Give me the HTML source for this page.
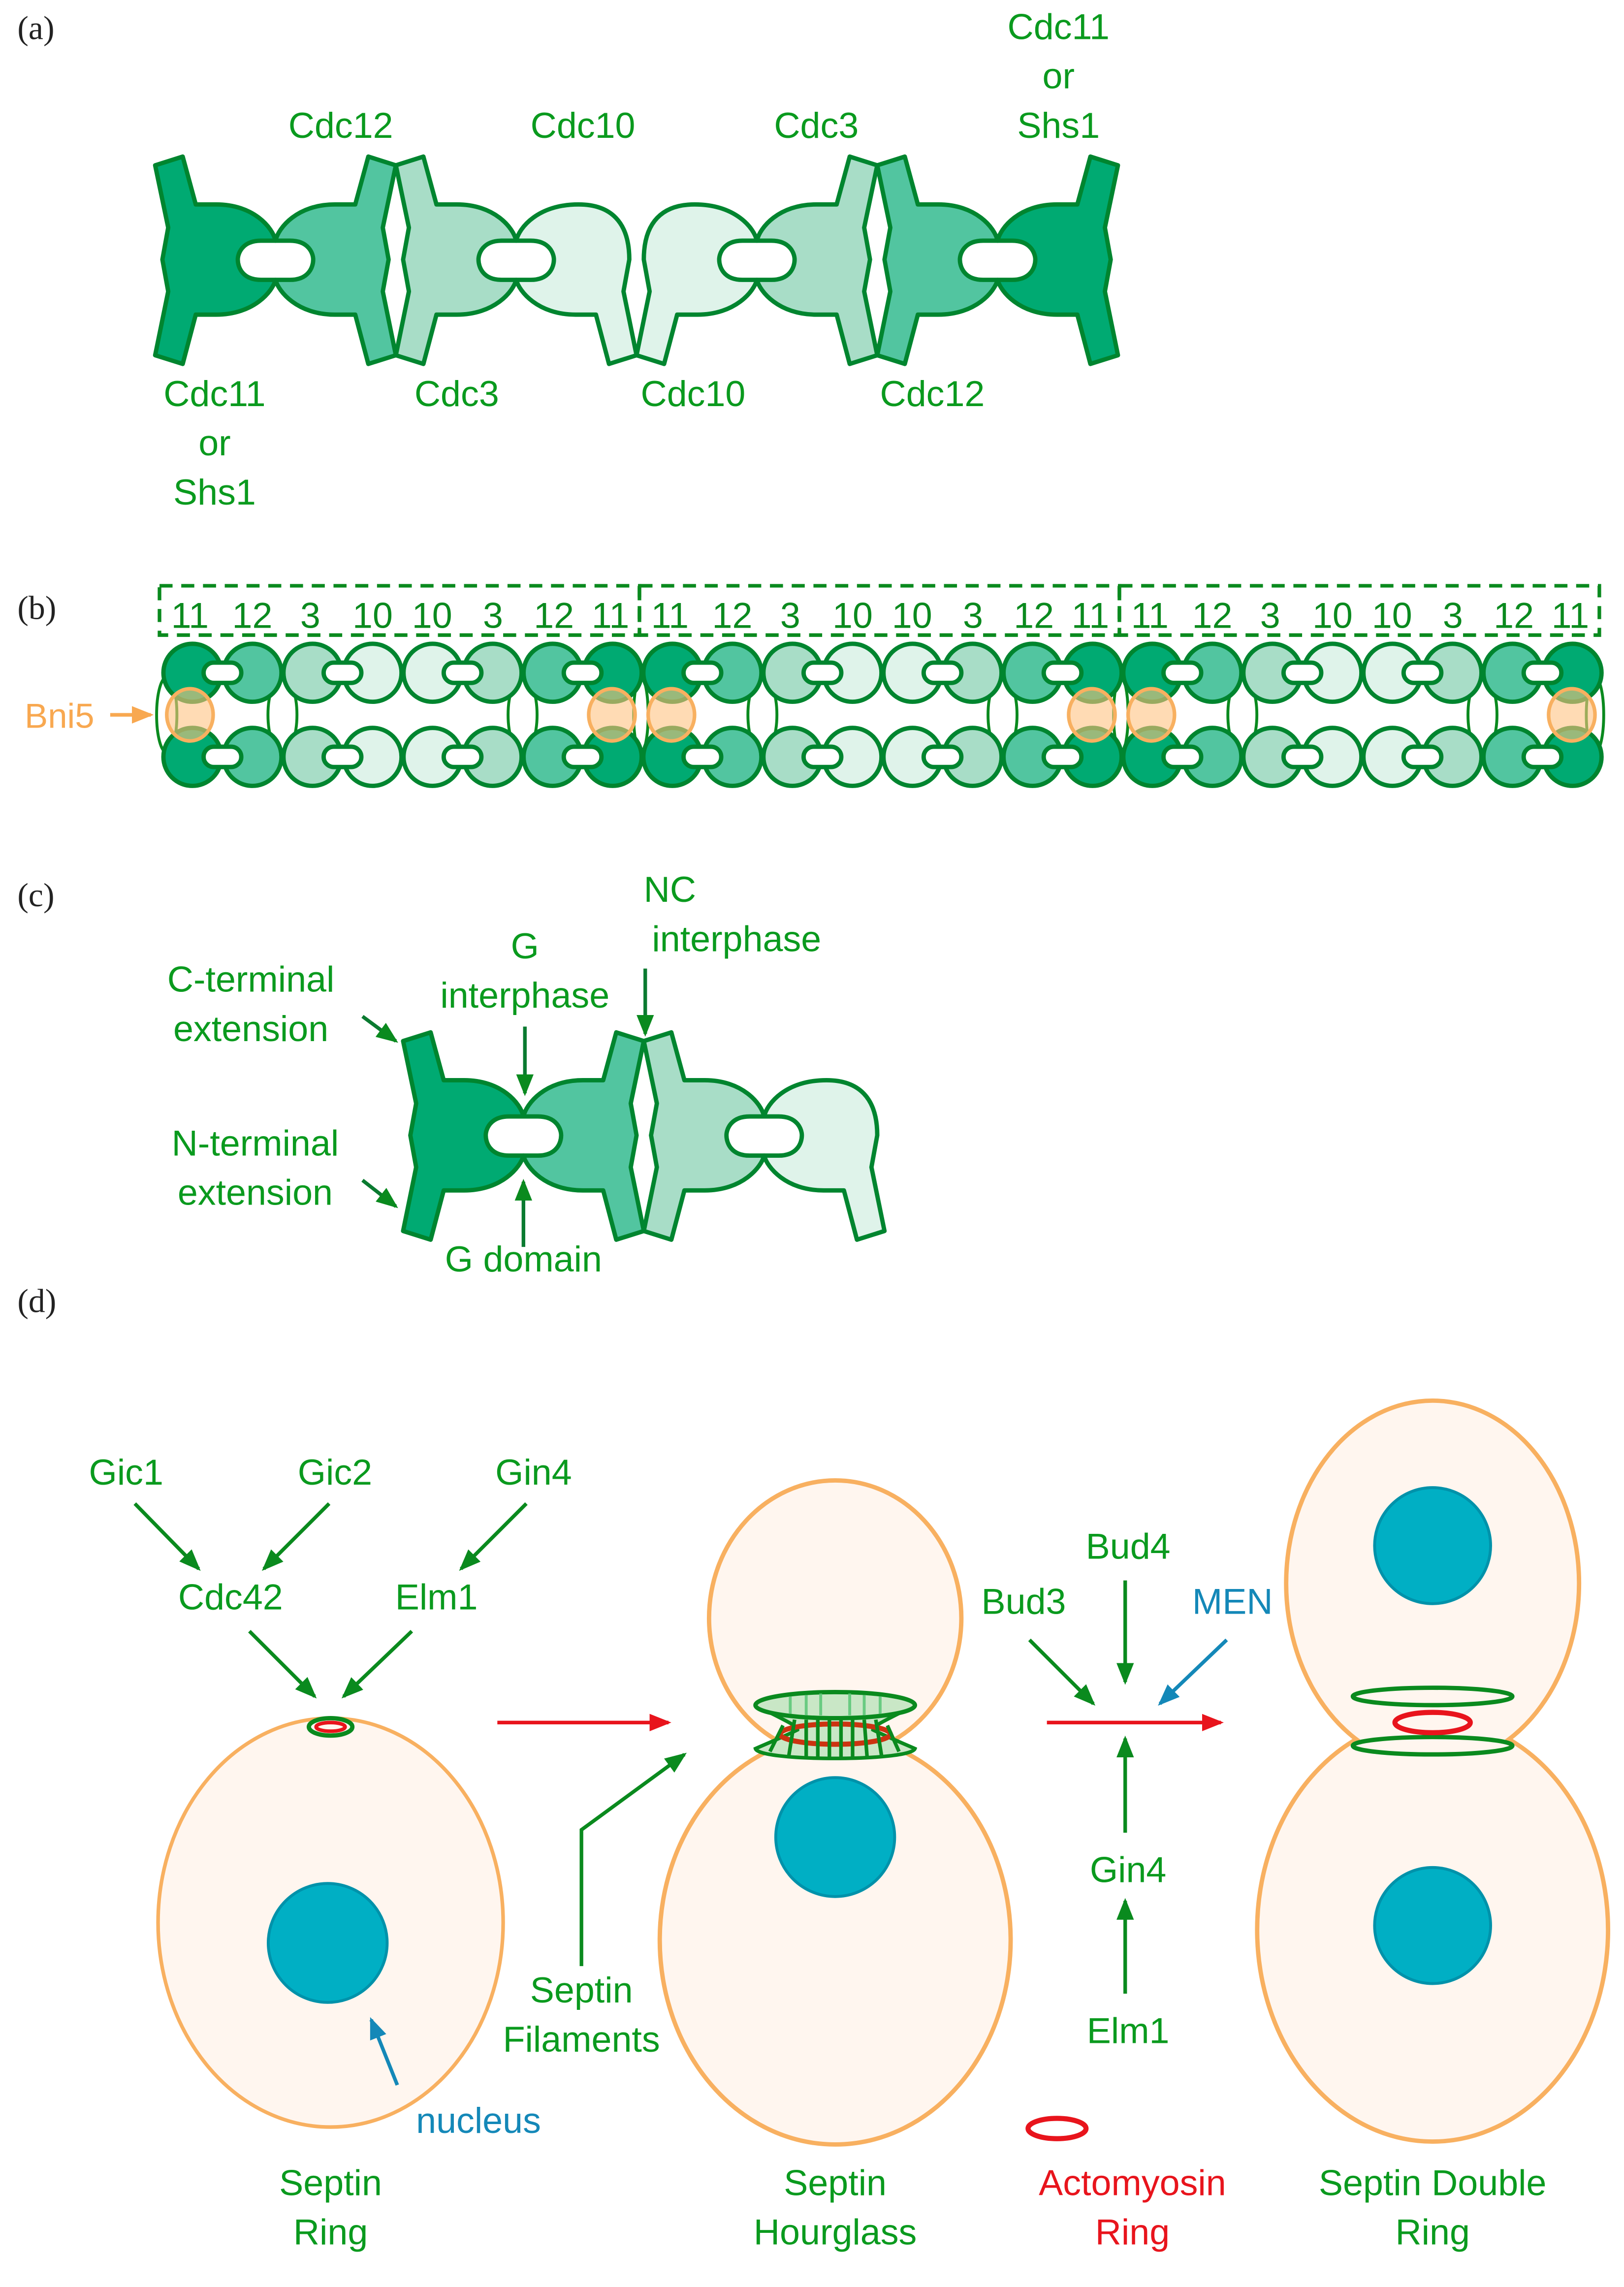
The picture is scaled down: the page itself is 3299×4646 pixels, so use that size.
<!DOCTYPE html>
<html><head><meta charset="utf-8"><style>
html,body{margin:0;padding:0;background:#fff;}
svg{display:block;}
text{font-family:"Liberation Sans",sans-serif;}
.lab{font-size:25px;fill:#0A9A1E;text-anchor:middle;}
.pan{font-family:"Liberation Serif",serif;font-size:23px;fill:#222;}
</style></head><body>
<svg width="3299" height="4646" viewBox="0 0 1120 1577.3" preserveAspectRatio="none" xmlns="http://www.w3.org/2000/svg">
<defs>
<marker id="mg" markerUnits="userSpaceOnUse" markerWidth="16" markerHeight="16" refX="13" refY="8" orient="auto"><path d="M0,2 L15,8 L0,14 Z" fill="#0A8A1E"/></marker>
<marker id="mb" markerUnits="userSpaceOnUse" markerWidth="16" markerHeight="16" refX="13" refY="8" orient="auto"><path d="M0,2 L15,8 L0,14 Z" fill="#1488B8"/></marker>
<marker id="mr" markerUnits="userSpaceOnUse" markerWidth="16" markerHeight="16" refX="13" refY="8" orient="auto"><path d="M0,2 L15,8 L0,14 Z" fill="#E8141C"/></marker>
<marker id="mo" markerUnits="userSpaceOnUse" markerWidth="16" markerHeight="16" refX="13" refY="8" orient="auto"><path d="M0,2 L15,8 L0,14 Z" fill="#F8A850"/></marker>
<path id="full" d="M0,-65 L19,-71 L28,-38 L42,-38 C68,-38 81,-22 83,-13 L73,-13 C60,-13 57,-4 57,0 C57,5 60,14 73,14 L83,14 C81,22 68,38 42,38 L28,38 L19,72 L0,66 L9,22 L5,0 L9,-22 Z" stroke="#00852F" stroke-width="3" stroke-linejoin="round"/>
<path id="c10" d="M5,0 C5,-26 18,-38 40,-38 C68,-38 81,-22 83,-13 L73,-13 C60,-13 57,-4 57,0 C57,5 60,14 73,14 L83,14 C81,22 68,38 42,38 L28,38 L19,72 L0,66 L9,22 Z" stroke="#00852F" stroke-width="3" stroke-linejoin="round"/>
<g id="oct" stroke="#00852F" stroke-width="3">
<ellipse cx="20.7" cy="0" rx="20" ry="20" fill="#00AA72"/>
<ellipse cx="62.1" cy="0" rx="20" ry="20" fill="#52C5A0"/>
<ellipse cx="103.5" cy="0" rx="20" ry="20" fill="#A8DDC7"/>
<ellipse cx="144.9" cy="0" rx="20" ry="20" fill="#DFF3EA"/>
<ellipse cx="186.3" cy="0" rx="20" ry="20" fill="#DFF3EA"/>
<ellipse cx="227.7" cy="0" rx="20" ry="20" fill="#A8DDC7"/>
<ellipse cx="269.1" cy="0" rx="20" ry="20" fill="#52C5A0"/>
<ellipse cx="310.5" cy="0" rx="20" ry="20" fill="#00AA72"/>
<rect x="28.4" y="-7" width="26" height="14" rx="7" fill="#fff"/>
<rect x="111.2" y="-7" width="26" height="14" rx="7" fill="#fff"/>
<rect x="194" y="-7" width="26" height="14" rx="7" fill="#fff"/>
<rect x="276.8" y="-7" width="26" height="14" rx="7" fill="#fff"/>
</g>
</defs>
<rect width="1120" height="1577.3" fill="#fff"/>

<!-- (a) -->
<text class="pan" x="12" y="27">(a)</text>
<use href="#full" fill="#00AA72" transform="translate(107,179)"/>
<use href="#full" fill="#52C5A0" transform="translate(273,179) scale(-1,1)"/>
<use href="#full" fill="#A8DDC7" transform="translate(273,179)"/>
<use href="#c10" fill="#DFF3EA" transform="translate(439,179) scale(-1,1)"/>
<use href="#c10" fill="#DFF3EA" transform="translate(439,179)"/>
<use href="#full" fill="#A8DDC7" transform="translate(605,179) scale(-1,1)"/>
<use href="#full" fill="#52C5A0" transform="translate(605,179)"/>
<use href="#full" fill="#00AA72" transform="translate(771,179) scale(-1,1)"/>
<text class="lab" x="235" y="95">Cdc12</text>
<text class="lab" x="402" y="95">Cdc10</text>
<text class="lab" x="563" y="95">Cdc3</text>
<text class="lab" x="730" y="27">Cdc11</text>
<text class="lab" x="730" y="61">or</text>
<text class="lab" x="730" y="95">Shs1</text>
<text class="lab" x="148" y="280">Cdc11</text>
<text class="lab" x="148" y="314">or</text>
<text class="lab" x="148" y="348">Shs1</text>
<text class="lab" x="315" y="280">Cdc3</text>
<text class="lab" x="478" y="280">Cdc10</text>
<text class="lab" x="643" y="280">Cdc12</text>

<!-- (b) -->
<text class="pan" x="12" y="427">(b)</text>
<g fill="none" stroke="#0A8A1E" stroke-width="2.5" stroke-dasharray="9,6">
<rect x="110" y="404" width="331" height="34"/>
<rect x="441" y="404" width="331" height="34"/>
<rect x="772" y="404" width="331" height="34"/>
</g>
<g font-size="25" fill="#0A8A1E" text-anchor="middle" font-family="Liberation Sans Narrow, Liberation Sans, sans-serif">
<text x="131" y="433">11</text><text x="174" y="433">12</text><text x="214" y="433">3</text><text x="257" y="433">10</text><text x="298" y="433">10</text><text x="340" y="433">3</text><text x="382" y="433">12</text><text x="421" y="433">11</text>
<text x="462" y="433">11</text><text x="505" y="433">12</text><text x="545" y="433">3</text><text x="588" y="433">10</text><text x="629" y="433">10</text><text x="671" y="433">3</text><text x="713" y="433">12</text><text x="752" y="433">11</text>
<text x="793" y="433">11</text><text x="836" y="433">12</text><text x="876" y="433">3</text><text x="919" y="433">10</text><text x="960" y="433">10</text><text x="1002" y="433">3</text><text x="1044" y="433">12</text><text x="1083" y="433">11</text>
</g>
<g fill="none" stroke="#0A8A1E" stroke-width="2">
<ellipse cx="194.8" cy="493" rx="10" ry="26"/><ellipse cx="360.4" cy="493" rx="10" ry="26"/>
<ellipse cx="525.8" cy="493" rx="10" ry="26"/><ellipse cx="691.4" cy="493" rx="10" ry="26"/>
<ellipse cx="856.8" cy="493" rx="10" ry="26"/><ellipse cx="1022.4" cy="493" rx="10" ry="26"/>
<ellipse cx="115" cy="493" rx="7" ry="26"/><ellipse cx="442" cy="493" rx="5" ry="26"/><ellipse cx="773" cy="493" rx="5" ry="26"/><ellipse cx="1100" cy="493" rx="6" ry="26"/>
</g>
<use href="#oct" x="112" y="464"/><use href="#oct" x="443" y="464"/><use href="#oct" x="774" y="464"/>
<use href="#oct" x="112" y="522"/><use href="#oct" x="443" y="522"/><use href="#oct" x="774" y="522"/>
<g fill="rgba(255,195,130,0.6)" stroke="#F8B060" stroke-width="2.5">
<ellipse cx="131" cy="493" rx="16" ry="18"/><ellipse cx="422" cy="493" rx="16" ry="18"/>
<ellipse cx="463" cy="493" rx="16" ry="18"/><ellipse cx="753" cy="493" rx="16" ry="18"/>
<ellipse cx="794" cy="493" rx="16" ry="18"/><ellipse cx="1084" cy="493" rx="16" ry="18"/>
</g>
<text x="17" y="502" font-size="24" fill="#F8A850">Bni5</text>
<line x1="76" y1="493" x2="104" y2="493" stroke="#F8A850" stroke-width="2.5" marker-end="url(#mo)"/>

<!-- (c) -->
<text class="pan" x="12" y="625">(c)</text>
<use href="#full" fill="#00AA72" transform="translate(278,783)"/>
<use href="#full" fill="#52C5A0" transform="translate(444,783) scale(-1,1)"/>
<use href="#full" fill="#A8DDC7" transform="translate(444,783)"/>
<use href="#c10" fill="#DFF3EA" transform="translate(610,783) scale(-1,1)"/>
<text class="lab" x="173" y="684">C-terminal</text>
<text class="lab" x="173" y="718">extension</text>
<text class="lab" x="176" y="797">N-terminal</text>
<text class="lab" x="176" y="831">extension</text>
<text class="lab" x="362" y="661">G</text>
<text class="lab" x="362" y="695">interphase</text>
<text class="lab" x="462" y="622">NC</text>
<text class="lab" x="508" y="656">interphase</text>
<text class="lab" x="361" y="877">G domain</text>
<g stroke="#0A7A30" stroke-width="2.5" fill="none" marker-end="url(#mg)">
<line x1="250" y1="701" x2="273" y2="718"/>
<line x1="250" y1="814" x2="273" y2="832"/>
<line x1="362" y1="708" x2="362" y2="754"/>
<line x1="445" y1="668" x2="445" y2="713"/>
<line x1="361" y1="860" x2="361" y2="815"/>
</g>

<!-- (d) -->
<text class="pan" x="12" y="905">(d)</text>
<!-- cell 1 -->
<ellipse cx="228" cy="1326" rx="119" ry="141" fill="#FFF6EF" stroke="#F8B060" stroke-width="2.5"/>
<circle cx="226" cy="1340" r="41" fill="#00AFC4" stroke="#0092AA" stroke-width="2"/>
<ellipse cx="228" cy="1191" rx="15" ry="6" fill="none" stroke="#0A8A1E" stroke-width="3"/>
<ellipse cx="228" cy="1191" rx="10" ry="3" fill="none" stroke="#E8141C" stroke-width="2.5"/>
<text class="lab" x="87" y="1024">Gic1</text>
<text class="lab" x="231" y="1024">Gic2</text>
<text class="lab" x="368" y="1024">Gin4</text>
<text class="lab" x="159" y="1110">Cdc42</text>
<text class="lab" x="301" y="1110">Elm1</text>
<g stroke="#0A8A1E" stroke-width="2.5" fill="none" marker-end="url(#mg)">
<line x1="93" y1="1037" x2="137" y2="1082"/>
<line x1="227" y1="1037" x2="182" y2="1082"/>
<line x1="363" y1="1037" x2="318" y2="1082"/>
<line x1="172" y1="1125" x2="217" y2="1170"/>
<line x1="284" y1="1125" x2="237" y2="1170"/>
<polyline points="401,1356 401,1262 472,1210"/>
<line x1="776" y1="1090" x2="776" y2="1160"/>
<line x1="710" y1="1131" x2="754" y2="1175"/>
<line x1="776" y1="1264" x2="776" y2="1199"/>
<line x1="776" y1="1375" x2="776" y2="1311"/>
</g>
<line x1="274" y1="1438" x2="256" y2="1393" stroke="#1488B8" stroke-width="2.5" marker-end="url(#mb)"/>
<line x1="846" y1="1131" x2="800" y2="1175" stroke="#1488B8" stroke-width="2.5" marker-end="url(#mb)"/>
<text x="330" y="1471" font-size="25" fill="#1488B8" text-anchor="middle">nucleus</text>
<text class="lab" x="228" y="1514">Septin</text>
<text class="lab" x="228" y="1548">Ring</text>
<line x1="343" y1="1188" x2="461" y2="1188" stroke="#E8141C" stroke-width="2.5" marker-end="url(#mr)"/>
<line x1="722" y1="1188" x2="842" y2="1188" stroke="#E8141C" stroke-width="2.5" marker-end="url(#mr)"/>

<!-- cell 2 -->
<g fill="none" stroke="#F8B060" stroke-width="5">
<ellipse cx="576" cy="1338" rx="120" ry="140"/>
<ellipse cx="576" cy="1116" rx="86" ry="94"/>
</g>
<g fill="#FFF6EF">
<ellipse cx="576" cy="1338" rx="119.5" ry="139.5"/>
<ellipse cx="576" cy="1116" rx="85.5" ry="93.5"/>
</g>
<circle cx="576" cy="1267" r="41" fill="#00AFC4" stroke="#0092AA" stroke-width="2"/>
<path d="M521,1176 C540,1186 550,1190 550,1193 C540,1198 530,1202 521,1206 C523,1215 628,1215 631,1206 C622,1202 612,1198 602,1193 C602,1190 612,1186 631,1176 Z" fill="#C9E7C6" stroke="#0A8A1E" stroke-width="2.5"/>
<ellipse cx="576" cy="1176" rx="55" ry="9" fill="#C9E7C6" stroke="#0A8A1E" stroke-width="3"/>
<ellipse cx="576" cy="1196" rx="38" ry="7" fill="none" stroke="#CC3311" stroke-width="3.5"/>
<g stroke="#0A8A1E" stroke-width="2.5">
<line x1="548" y1="1186" x2="544" y2="1211"/><line x1="556" y1="1186" x2="556" y2="1212"/>
<line x1="564" y1="1186" x2="564" y2="1213"/><line x1="572" y1="1186" x2="572" y2="1213"/>
<line x1="580" y1="1186" x2="580" y2="1213"/><line x1="588" y1="1186" x2="588" y2="1213"/>
<line x1="596" y1="1186" x2="598" y2="1212"/><line x1="604" y1="1186" x2="608" y2="1211"/>
<line x1="540" y1="1190" x2="531" y2="1208"/><line x1="612" y1="1190" x2="620" y2="1208"/>
</g>
<g stroke="#5FC87A" stroke-width="2" opacity="0.9">
<line x1="545" y1="1170" x2="545" y2="1182"/><line x1="556" y1="1169" x2="556" y2="1183"/><line x1="566" y1="1168" x2="566" y2="1183"/>
<line x1="586" y1="1168" x2="586" y2="1183"/><line x1="596" y1="1169" x2="596" y2="1183"/><line x1="607" y1="1170" x2="607" y2="1182"/>
</g>
<text class="lab" x="401" y="1381">Septin</text>
<text class="lab" x="401" y="1415">Filaments</text>
<text class="lab" x="576" y="1514">Septin</text>
<text class="lab" x="576" y="1548">Hourglass</text>

<!-- middle labels -->
<text class="lab" x="778" y="1075">Bud4</text>
<text class="lab" x="706" y="1113">Bud3</text>
<text x="850" y="1113" font-size="25" fill="#1488B8" text-anchor="middle">MEN</text>
<text class="lab" x="778" y="1298">Gin4</text>
<text class="lab" x="778" y="1409">Elm1</text>
<ellipse cx="729" cy="1468" rx="20" ry="7" fill="none" stroke="#E8141C" stroke-width="3.5"/>
<text x="781" y="1514" font-size="25" fill="#E8141C" text-anchor="middle">Actomyosin</text>
<text x="781" y="1548" font-size="25" fill="#E8141C" text-anchor="middle">Ring</text>

<!-- cell 3 -->
<g fill="none" stroke="#F8B060" stroke-width="5">
<ellipse cx="988" cy="1331" rx="120" ry="145"/>
<ellipse cx="988" cy="1092" rx="100" ry="125"/>
</g>
<g fill="#FFF6EF">
<ellipse cx="988" cy="1331" rx="119.5" ry="144.5"/>
<ellipse cx="988" cy="1092" rx="99.5" ry="124.5"/>
</g>
<circle cx="988" cy="1066" r="40" fill="#00AFC4" stroke="#0092AA" stroke-width="2"/>
<circle cx="988" cy="1328" r="40" fill="#00AFC4" stroke="#0092AA" stroke-width="2"/>
<ellipse cx="988" cy="1170" rx="55" ry="6" fill="none" stroke="#0A8A1E" stroke-width="3"/>
<ellipse cx="988" cy="1204" rx="55" ry="6" fill="none" stroke="#0A8A1E" stroke-width="3"/>
<ellipse cx="988" cy="1188" rx="26" ry="7" fill="none" stroke="#E8141C" stroke-width="3.5"/>
<text class="lab" x="988" y="1514">Septin Double</text>
<text class="lab" x="988" y="1548">Ring</text>
</svg>
</body></html>
